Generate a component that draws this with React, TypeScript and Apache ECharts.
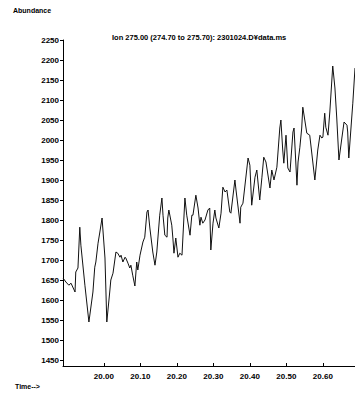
import React, { useEffect, useRef } from "react";
import * as echarts from "echarts";

const times: number[] = [
  19.888, 19.896, 19.904, 19.910, 19.921, 19.923, 19.929, 19.934, 19.937, 19.948,
  19.959, 19.970, 19.975, 19.978, 19.984, 19.989, 19.995, 20.003, 20.008, 20.016,
  20.019, 20.025, 20.033, 20.038, 20.044, 20.047, 20.052, 20.058, 20.060, 20.066,
  20.071, 20.074, 20.079, 20.085, 20.090, 20.093, 20.099, 20.107, 20.112, 20.118,
  20.121, 20.126, 20.134, 20.140, 20.145, 20.153, 20.159, 20.162, 20.167, 20.173,
  20.175, 20.178, 20.186, 20.189, 20.192, 20.197, 20.203, 20.208, 20.214, 20.222,
  20.227, 20.236, 20.241, 20.244, 20.252, 20.258, 20.263, 20.266, 20.271, 20.277,
  20.285, 20.290, 20.293, 20.299, 20.304, 20.307, 20.315, 20.321, 20.326, 20.332,
  20.337, 20.345, 20.348, 20.359, 20.362, 20.373, 20.375, 20.381, 20.395, 20.400,
  20.405, 20.414, 20.419, 20.427, 20.433, 20.438, 20.444, 20.455, 20.460, 20.466,
  20.474, 20.482, 20.485, 20.490, 20.493, 20.499, 20.501, 20.504, 20.510, 20.518,
  20.521, 20.529, 20.532, 20.537, 20.542, 20.545, 20.556, 20.564, 20.573, 20.578,
  20.586, 20.592, 20.597, 20.600, 20.605, 20.608, 20.614, 20.619, 20.627, 20.633,
  20.638, 20.644, 20.652, 20.658, 20.666, 20.668, 20.671, 20.679, 20.682, 20.688,
];

const abundance: number[] = [
  1655, 1645, 1637, 1642, 1620, 1670, 1680, 1782, 1737, 1637,
  1545, 1620, 1682, 1695, 1742, 1770, 1805, 1705, 1545, 1620,
  1650, 1667, 1720, 1717, 1707, 1712, 1695, 1707, 1705, 1692,
  1680, 1687, 1662, 1635, 1695, 1675, 1712, 1745, 1757, 1820,
  1825, 1780, 1720, 1687, 1720, 1812, 1855, 1812, 1762, 1757,
  1805, 1825, 1787, 1755, 1717, 1755, 1707, 1717, 1712, 1855,
  1812, 1762, 1812, 1812, 1862, 1830, 1787, 1807, 1792, 1800,
  1825, 1830, 1725, 1792, 1825, 1805, 1780, 1817, 1882, 1870,
  1875, 1820, 1817, 1900, 1875, 1792, 1832, 1842, 1955, 1937,
  1837, 1907, 1925, 1850, 1907, 1957, 1945, 1880, 1925, 1900,
  1932, 2030, 2050, 1975, 1942, 2012, 1980, 1930, 1920, 2020,
  2030, 1887, 1945, 1982, 2030, 2082, 2017, 2012, 1940, 1900,
  1975, 2012, 2005, 2007, 2067, 2032, 2012, 2070, 2185, 2130,
  2055, 1950, 2005, 2045, 2037, 2020, 1955, 2055, 2092, 2180,
];

const xTicks: number[] = [20.0, 20.1, 20.2, 20.3, 20.4, 20.5, 20.6];
const yTicks: number[] = [1450, 1500, 1550, 1600, 1650, 1700, 1750, 1800, 1850, 1900, 1950, 2000, 2050, 2100, 2150, 2200, 2250];

const titleText = "Ion 275.00 (274.70 to 275.70): 2301024.D\u00a5data.ms";
const yAxisTitle = "Abundance";
const xAxisTitle = "Time-->";

export default function App() {
  const ref = useRef<HTMLDivElement>(null);
  useEffect(() => {
    if (!ref.current) return;
    const chart = echarts.init(ref.current, null, { renderer: "svg" });
    const font = "Arial, 'Liberation Sans', sans-serif";
    chart.setOption({
      animation: false,
      backgroundColor: "#ffffff",
      textStyle: { fontFamily: font },
      grid: { left: 63, right: 0, top: 40, bottom: 32 },
      graphic: [
        {
          type: "text",
          left: 13,
          top: 7,
          style: { text: yAxisTitle, font: `bold 7px ${font}`, fill: "#000" },
        },
        {
          type: "text",
          left: 15,
          top: 383,
          style: { text: xAxisTitle, font: `bold 7px ${font}`, fill: "#000" },
        },
        {
          type: "text",
          left: 112,
          top: 33,
          style: { text: titleText, font: `bold 7.5px ${font}`, fill: "#000" },
        },
      ],
      xAxis: {
        type: "value",
        min: 19.888,
        max: 20.688,
        axisLine: { show: true, lineStyle: { color: "#000", width: 1 } },
        axisTick: { show: true, customValues: xTicks, length: 3, inside: true, lineStyle: { color: "#000" } },
        axisLabel: {
          customValues: xTicks,
          formatter: (v: number) => v.toFixed(2),
          color: "#000",
          fontSize: 8,
          fontWeight: "bold",
          margin: 6,
        },
        splitLine: { show: false },
      },
      yAxis: {
        type: "value",
        min: 1435,
        max: 2250,
        axisLine: { show: true, lineStyle: { color: "#000", width: 1 } },
        axisTick: { show: true, customValues: yTicks, length: 3, inside: false, lineStyle: { color: "#000" } },
        axisLabel: {
          customValues: yTicks,
          formatter: (v: number) => String(v),
          color: "#000",
          fontSize: 8,
          fontWeight: "bold",
          margin: 4,
        },
        splitLine: { show: false },
      },
      series: [
        {
          type: "line",
          data: times.map((t, i) => [t, abundance[i]]),
          showSymbol: false,
          symbol: "none",
          lineStyle: { color: "#111", width: 1 },
          clip: true,
        },
      ],
    });
    return () => chart.dispose();
  }, []);
  return <div ref={ref} style={{ width: 355, height: 398, position: "absolute", left: 0, top: 0 }} />;
}
